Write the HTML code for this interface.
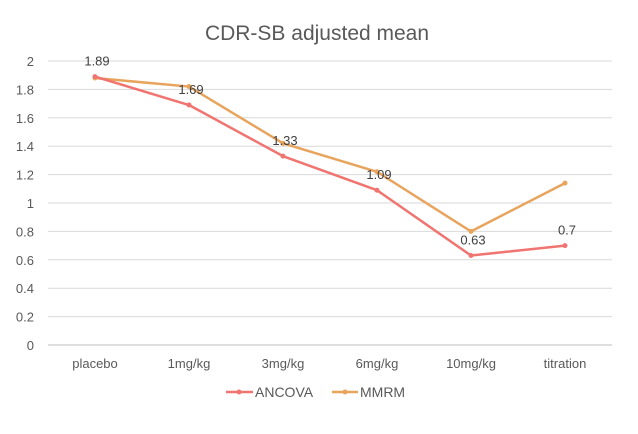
<!DOCTYPE html>
<html><head><meta charset="utf-8"><style>
body{margin:0;background:#fff;}
svg{font-family:"Liberation Sans",Arial,sans-serif;}
</style></head><body>
<svg id="c" width="638" height="429">
<text x="317" y="40" text-anchor="middle" font-size="21" fill="#595959">CDR-SB adjusted mean</text>
<g id="grid"></g><g id="ylab"></g><g id="xlab"></g><g id="series"></g>
<g>
<line x1="226" y1="392" x2="253" y2="392" stroke="#F07470" stroke-width="2.5"/><circle cx="239" cy="392" r="2.5" fill="#F07470"/>
<text x="255" y="397" font-size="14" fill="#595959">ANCOVA</text>
<line x1="332" y1="392" x2="358" y2="392" stroke="#E8A45C" stroke-width="2.5"/><circle cx="345" cy="392" r="2.5" fill="#E8A45C"/>
<text x="360" y="397" font-size="14" fill="#595959">MMRM</text>
</g>
</svg>
<script>
const categories=["placebo","1mg/kg","3mg/kg","6mg/kg","10mg/kg","titration"];
const ancova=[1.89,1.69,1.33,1.09,0.63,0.7];
const mmrm=[1.88,1.82,1.42,1.22,0.80,1.14];
const ancovaLabels=["1.89","1.69","1.33","1.09","0.63","0.7"];
const yTicks=[0,0.2,0.4,0.6,0.8,1,1.2,1.4,1.6,1.8,2];
const NS="http://www.w3.org/2000/svg";
const y=v=>345-v*142;
const x=i=>95+i*94;
function mk(tag,attrs,parent){const e=document.createElementNS(NS,tag);for(const k in attrs)e.setAttribute(k,attrs[k]);document.getElementById(parent).appendChild(e);return e;}
yTicks.forEach(t=>{
 const l=mk('line',{x1:48,x2:612,y1:y(t),y2:y(t),stroke:t===0?'#BFBFBF':'#D9D9D9','stroke-width':1},'grid');
 
 
 const tx=mk('text',{x:34,y:y(t)+5,'text-anchor':'end','font-size':13,fill:'#595959'},'ylab');
 tx.textContent=String(t);
 
 
});
categories.forEach((c,i)=>{
 const tx=mk('text',{x:x(i),y:368,'text-anchor':'middle','font-size':13,fill:'#595959'},'xlab');
 tx.textContent=c;
 
 
});
function line(vals,color,name){
 const p=mk('polyline',{points:vals.map((v,i)=>x(i)+','+y(v)).join(' '),fill:'none',stroke:color,'stroke-width':2.5,'stroke-linejoin':'round'},'series');
 
 
 vals.forEach((v,i)=>{const c=mk('circle',{cx:x(i),cy:y(v),r:2.5,fill:color},'series');
 
 });
}
line(mmrm,'#E8A45C','mmrm');
line(ancova,'#F07470','ancova');
ancova.forEach((v,i)=>{
 const tx=mk('text',{x:x(i)+2,y:y(v)-11,'text-anchor':'middle','font-size':13,fill:'#404040'},'series');
 tx.textContent=ancovaLabels[i];
 
 
});
</script>
</body></html>
